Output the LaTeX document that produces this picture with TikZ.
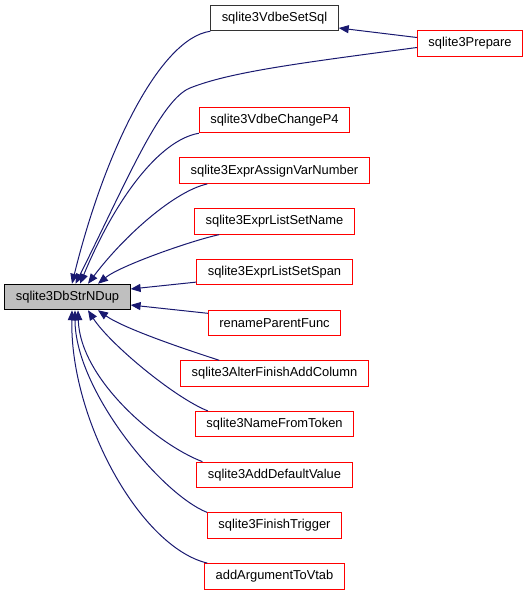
\documentclass[tikz,border=0pt]{standalone}
\usepackage{fontspec}
\setmainfont{Liberation Sans}
\usetikzlibrary{arrows.meta,positioning}
\definecolor{linkblue}{HTML}{191970}
\definecolor{rootgray}{HTML}{BFBFBF}

\begin{document}
\begin{tikzpicture}[x=1pt, y=-1pt, >={Triangle[length=10pt, width=8pt]}, node distance=24.2pt,
  every node/.style={rectangle, draw=red, fill=white, line width=1pt, minimum height=25.5pt,
    inner xsep=11pt, inner ysep=0pt, font=\fontsize{12.9}{15}\selectfont},
  link/.style={->, line width=1pt, linkblue}]
  \useasboundingbox (0,0) rectangle (529,595);
  \node (M) [fill=rootgray, draw=black] at (67.5,297) {sqlite3DbStrNDup};
  \node (SS) [draw=black!80] at (274.5,18) {sqlite3VdbeSetSql};
  \node (P) at (470,43.5) {sqlite3Prepare};
  \node (CP) at (274.5,120) {sqlite3VdbeChangeP4};
  \node (AV) [below=of CP] {sqlite3ExprAssignVarNumber};
  \node (EN) [below=of AV] {sqlite3ExprListSetName};
  \node (ES) [below=of EN] {sqlite3ExprListSetSpan};
  \node (RP) [below=of ES] {renameParentFunc};
  \node (AF) [below=of RP] {sqlite3AlterFinishAddColumn};
  \node (NT) [below=of AF] {sqlite3NameFromToken};
  \node (DV) [below=of NT] {sqlite3AddDefaultValue};
  \node (FT) [below=of DV] {sqlite3FinishTrigger};
  \node (AA) [below=of FT] {addArgumentToVtab};
  \draw[link] ([yshift=6pt]P.west) -- ([yshift=-10pt]SS.east);
  \draw[link] ([yshift=-4pt]P.west) .. controls (300,63) and (230,72) .. (190,88)
    .. controls (160,100) and (125,185) .. ([xshift=8pt]M.north);
  \draw[link] (SS.south west) .. controls +(-50,7) and +(33,-134) .. ([xshift=4.5pt]M.north);
  \draw[link] (CP.south west) .. controls +(-40,7) and +(35,-84) .. ([xshift=12.5pt]M.north);
  \draw[link] ([xshift=28pt]AV.south west) .. controls +(-32,7) and +(37,-49) .. ([xshift=20.5pt]M.north);
  \draw[link] ([xshift=25pt]EN.south west) .. controls +(-28,6) and +(22,-18) .. ([xshift=30.5pt]M.north);
  \draw[link] ([yshift=-10pt]ES.west) -- ([yshift=8pt]M.east);
  \draw[link] ([yshift=9.5pt]RP.west) -- ([yshift=-8pt]M.east);
  \draw[link] ([xshift=39pt]AF.north west) .. controls +(-28,-9) and +(27,19) .. ([xshift=30.5pt]M.south);
  \draw[link] ([xshift=13pt]NT.north west) .. controls +(-33,-13) and +(22,34) .. ([xshift=20.5pt]M.south);
  \draw[link] ([xshift=6pt]DV.north west) .. controls +(-45,-17) and +(2,69) .. ([xshift=10.5pt]M.south);
  \draw[link] (FT.north west) .. controls +(-47,-19) and +(0,79) .. ([xshift=7.5pt]M.south);
  \draw[link] ([xshift=3pt]AA.north west) .. controls +(-67,-16) and +(-2,109) .. ([xshift=4.5pt]M.south);
\end{tikzpicture}
\end{document}
